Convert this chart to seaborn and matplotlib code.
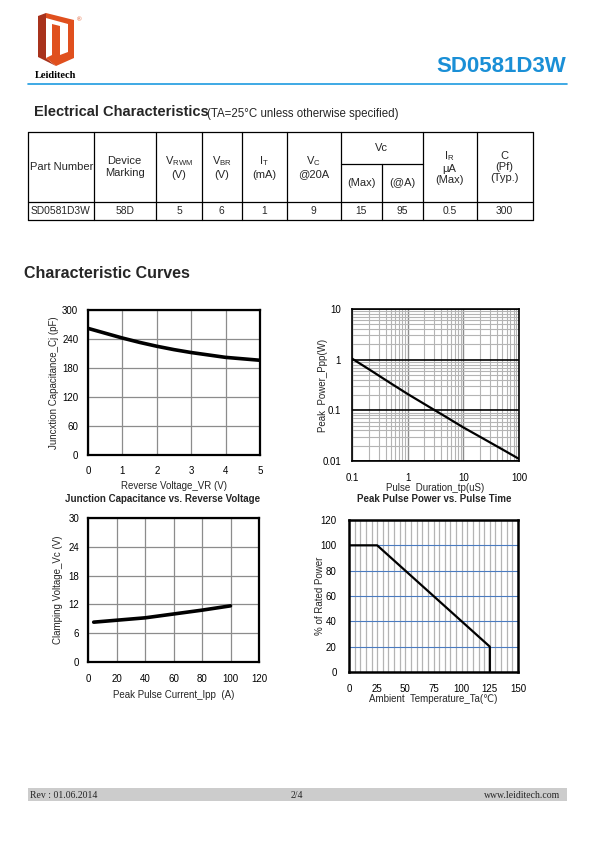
import numpy as np
import pandas as pd
import matplotlib
matplotlib.use("Agg")
import matplotlib.pyplot as plt
import matplotlib.ticker as mticker
from matplotlib.patches import Polygon, Rectangle
import seaborn as sns

# ---------------- data ----------------
cap_vr = [0, 0.5, 1, 1.5, 2, 2.5, 3, 3.5, 4, 4.5, 5]
cap_cj = [262, 252, 242, 233, 225, 218, 212, 207, 202, 199, 196]

ppp_tp = [0.1, 0.2, 0.5, 1, 2, 5, 10, 20, 50, 100]
ppp_w = [1.05, 0.65, 0.34, 0.21, 0.133, 0.073, 0.046, 0.030, 0.017, 0.011]

clamp_ipp = [4, 20, 40, 60, 80, 100]
clamp_vc = [8.3, 8.7, 9.2, 10.0, 10.8, 11.7]

derate_t = [0, 25, 125, 125]
derate_p = [100, 100, 20, 0]

table_headers = ["Part Number", "Device\nMarking", "V$_{\\mathregular{RWM}}$\n(V)",
                 "V$_{\\mathregular{BR}}$\n(V)", "I$_{\\mathregular{T}}$\n(mA)",
                 "V$_{\\mathregular{C}}$\n@20A", "(Max)", "(@A)",
                 "I$_{\\mathregular{R}}$\nμA\n(Max)", "C\n(Pf)\n(Typ.)"]
table_row = ["SD0581D3W", "58D", "5", "6", "1", "9", "15", "95", "0.5", "300"]

sns.set_theme(style="white")
plt.rcParams['font.family'] = ['Liberation Sans', 'DejaVu Sans']
plt.rcParams['mathtext.fontset'] = 'custom'
plt.rcParams['mathtext.rm'] = 'Liberation Sans'
plt.rcParams['mathtext.it'] = 'Liberation Sans'

W, H = 595, 842
fig = plt.figure(figsize=(W / 100, H / 100), dpi=100)

# page overlay axis in pixel coordinates
pg = fig.add_axes([0, 0, 1, 1])
pg.set_xlim(0, W)
pg.set_ylim(H, 0)
pg.axis("off")

# --- header ---
pg.add_patch(Polygon([[38, 16], [46, 13], [46, 58], [56, 66], [38, 57]], closed=True,
                     facecolor="#a8321c", edgecolor="none"))
pg.add_patch(Polygon([[46, 13], [74, 20], [74, 58], [56, 66], [46, 58], [52, 55],
                      [52, 24], [60, 26], [60, 55], [68, 52], [68, 24], [46, 18]], closed=True,
                     facecolor="#e0501e", edgecolor="none"))
pg.text(79, 20, "®", fontsize=4.5, color="#e0501e", ha="center", va="center")
pg.text(56, 75, "Leiditech", fontsize=7.5, fontweight="bold", family="Liberation Serif",
        ha="center", va="center", color="black")
pg.text(566, 67, "SD0581D3W", fontsize=16, fontweight="bold", color="#1a8fd6",
        ha="right", va="center")
pg.plot([28, 567], [84, 84], color="#1e9be0", lw=1.2)

# --- section title ---
pg.text(34, 112, "Electrical Characteristics", fontsize=10.5, fontweight="bold",
        ha="left", va="center")
pg.text(207, 114, "(TA=25°C unless otherwise specified)", fontsize=8.3,
        ha="left", va="center")

# --- table ---
cols = [28, 93.5, 156, 202, 241.5, 287, 340.5, 382, 422.5, 476.5, 532.5]
ytop, ysplit, ymid, ybot = 132, 164, 202, 220
lw = 0.9
pg.plot([cols[0], cols[-1]], [ytop, ytop], color="black", lw=lw)
pg.plot([cols[0], cols[-1]], [ymid, ymid], color="black", lw=lw)
pg.plot([cols[0], cols[-1]], [ybot, ybot], color="black", lw=lw)
pg.plot([cols[6], cols[8]], [ysplit, ysplit], color="black", lw=lw)
for i, x in enumerate(cols):
    y0 = ysplit if i == 7 else ytop
    pg.plot([x, x], [y0, ybot], color="black", lw=lw)
pg.text((cols[6] + cols[8]) / 2, 148, "Vc", fontsize=8, ha="center", va="center")
for i, h in enumerate(table_headers):
    cx = (cols[i] + cols[i + 1]) / 2
    if i in (6, 7):
        pg.text(cx, 183, h, fontsize=8, ha="center", va="center")
    elif i == 0:
        pg.text(cols[0] + 2, 167, h, fontsize=8, ha="left", va="center")
    else:
        pg.text(cx, 167, h, fontsize=8, ha="center", va="center", linespacing=1.15)
for i, v in enumerate(table_row):
    cx = (cols[i] + cols[i + 1]) / 2
    if i == 0:
        pg.text(cols[0] + 3, 211.5, v, fontsize=7.4, ha="left", va="center")
    else:
        pg.text(cx, 211.5, v, fontsize=7.4, ha="center", va="center")

pg.text(24, 273, "Characteristic Curves", fontsize=11.5, fontweight="bold",
        ha="left", va="center")

# --- footer ---
pg.add_patch(Rectangle((28, 788), 539, 13, facecolor="#cccccc", edgecolor="none"))
pg.text(30, 795, "Rev : 01.06.2014", fontsize=7, family="Liberation Serif", ha="left", va="center")
pg.text(297, 795, "2/4", fontsize=7, family="Liberation Serif", ha="center", va="center")
pg.text(560, 795, "www.leiditech.com", fontsize=7, family="Liberation Serif", ha="right", va="center")


def add_ax(l, r, t, b):
    return fig.add_axes([l / W, (H - b) / H, (r - l) / W, (b - t) / H])


def style(ax, spine_lw=1.6):
    for s in ax.spines.values():
        s.set_visible(True)
        s.set_color("black")
        s.set_linewidth(spine_lw)
    ax.tick_params(which="both", length=0, labelsize=7, colors="black")
    ax.set_facecolor("white")
    ax.set_axisbelow(True)


# --- chart 1 ---
ax1 = add_ax(88, 260, 310, 455)
sns.lineplot(x=cap_vr, y=cap_cj, ax=ax1, color="black", lw=2.6)
ax1.set_xlim(0, 5)
ax1.set_ylim(0, 300)
ax1.set_xticks(range(0, 6))
ax1.set_yticks(range(0, 301, 60))
ax1.grid(True, color="#8c8c8c", lw=0.9)
style(ax1)
ax1.tick_params(axis="x", pad=8)
ax1.tick_params(axis="y", pad=7)
ax1.set_xlabel("Reverse Voltage_VR (V)", fontsize=7, labelpad=3.5)
ax1.set_ylabel("Juncxtion Capacitance_Cj (pF)", fontsize=7, labelpad=2.5)
pg.text(163, 498.5, "Junction Capacitance vs. Reverse Voltage", fontsize=7,
        fontweight="bold", ha="center", va="center")

# --- chart 2 ---
ax2 = add_ax(352, 519, 309, 461)
sns.lineplot(x=ppp_tp, y=ppp_w, ax=ax2, color="black", lw=1.6)
ax2.set_xscale("log")
ax2.set_yscale("log")
ax2.set_xlim(0.1, 100)
ax2.set_ylim(0.01, 10)
ax2.xaxis.set_major_locator(mticker.FixedLocator([0.1, 1, 10, 100]))
ax2.xaxis.set_major_formatter(mticker.FixedFormatter(["0.1", "1", "10", "100"]))
ax2.yaxis.set_major_locator(mticker.FixedLocator([0.01, 0.1, 1, 10]))
ax2.yaxis.set_major_formatter(mticker.FixedFormatter(["0.01", "0.1", "1", "10"]))
ax2.xaxis.set_minor_locator(mticker.LogLocator(base=10, subs=np.arange(2, 10)))
ax2.yaxis.set_minor_locator(mticker.LogLocator(base=10, subs=np.arange(2, 10)))
ax2.xaxis.set_minor_formatter(mticker.NullFormatter())
ax2.yaxis.set_minor_formatter(mticker.NullFormatter())
ax2.grid(True, which="minor", color="#b4b4b4", lw=0.8)
ax2.grid(True, which="major", axis="x", color="#8c8c8c", lw=1.0)
ax2.grid(True, which="major", axis="y", color="black", lw=1.2)
style(ax2, 1.2)
ax2.tick_params(axis="x", pad=8.5)
ax2.tick_params(axis="y", pad=8)
ax2.set_xlabel("Pulse  Duration_tp(uS)", fontsize=7, labelpad=0.3)
ax2.set_ylabel("Peak  Power_Ppp(W)", fontsize=7, labelpad=-4)
pg.text(434, 499.5, "Peak Pulse Power vs. Pulse Time", fontsize=7,
        fontweight="bold", ha="center", va="center")

# --- chart 3 ---
ax3 = add_ax(88, 259, 518, 662)
sns.lineplot(x=clamp_ipp, y=clamp_vc, ax=ax3, color="black", lw=2.6)
ax3.set_xlim(0, 120)
ax3.set_ylim(0, 30)
ax3.set_xticks(range(0, 121, 20))
ax3.set_yticks(range(0, 31, 6))
ax3.grid(True, color="#8c8c8c", lw=0.9)
style(ax3)
ax3.tick_params(axis="x", pad=9)
ax3.tick_params(axis="y", pad=6.5)
ax3.set_xlabel("Peak Pulse Current_Ipp  (A)", fontsize=7, labelpad=4)
ax3.set_ylabel("Clamping Voltage_Vc (V)", fontsize=7, labelpad=4)

# --- chart 4 ---
ax4 = add_ax(349, 518, 520, 672)
df4 = pd.DataFrame({"t": derate_t, "p": derate_p})
sns.lineplot(data=df4, x="t", y="p", ax=ax4, color="black", lw=1.6,
             sort=False, estimator=None)
ax4.set_xlim(0, 150)
ax4.set_ylim(0, 120)
ax4.set_xticks(range(0, 151, 25))
ax4.set_yticks(range(0, 121, 20))
ax4.xaxis.set_minor_locator(mticker.MultipleLocator(5))
ax4.grid(True, which="both", axis="x", color="#b4b4b4", lw=0.9)
ax4.grid(True, which="major", axis="y", color="#4a7bc0", lw=0.8)
style(ax4, 1.8)
ax4.tick_params(axis="x", pad=9)
ax4.tick_params(axis="y", pad=9)
ax4.set_xlabel("Ambient  Temperature_Ta(℃)", fontsize=7, labelpad=0)
ax4.set_ylabel("% of Rated Power", fontsize=7, labelpad=-3)

fig.savefig("out.png", dpi=100)
